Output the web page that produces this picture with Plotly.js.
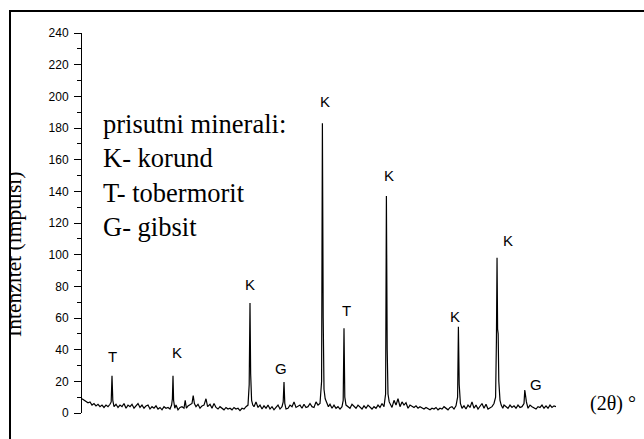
<!DOCTYPE html>
<html>
<head>
<meta charset="utf-8">
<script src="https://cdn.plot.ly/plotly-3.0.1.min.js"></script>
<style>
  html, body { margin: 0; padding: 0; background: #fff; }
  #wrap { position: relative; width: 644px; height: 439px; overflow: hidden; }
  #chart { position: absolute; left: 0; top: 0; width: 644px; height: 439px; }
  #frameLeft { position: absolute; left: 0; top: 10px; width: 9px; height: 429px; background: #fff; border-right: 2px solid #000; }
  #frameTop { position: absolute; left: 9px; top: 10px; width: 635px; height: 0; border-top: 2px solid #000; }
</style>
</head>
<body>
<div id="wrap">
  <div id="chart"></div>
  <div id="frameLeft"></div>
  <div id="frameTop"></div>
</div>
<script>
// 2θ positions (deg) and intensities (impulses)
const twoTheta = [
  4.00,4.25,4.50,4.75,5.00,5.25,5.50,5.75,6.00,6.25,6.50,6.75,7.00,7.25,7.50,7.65,7.75,7.85,
  8.00,8.25,8.50,8.75,9.00,9.25,9.50,9.75,10.00,10.25,10.50,10.75,11.00,11.25,11.50,11.75,
  12.00,12.25,12.50,12.75,13.00,13.25,13.50,13.75,14.00,14.25,14.50,14.75,15.00,15.20,15.30,
  15.375,15.45,15.60,15.75,16.00,16.25,16.50,16.75,16.90,17.05,17.25,17.50,17.75,17.90,18.05,
  18.25,18.50,18.75,19.00,19.25,19.50,19.70,20.00,20.25,20.50,20.75,21.00,21.25,21.50,21.75,
  22.00,22.25,22.50,22.75,23.00,23.25,23.50,23.75,24.00,24.25,24.50,24.75,24.90,25.00,25.08,
  25.20,25.35,25.50,25.75,26.00,26.25,26.50,26.75,27.00,27.25,27.50,27.75,28.00,28.25,28.50,
  28.75,29.00,29.15,29.25,29.35,29.50,29.75,30.00,30.25,30.50,30.75,31.00,31.25,31.50,31.75,
  32.00,32.25,32.50,32.75,33.00,33.25,33.50,33.75,33.95,34.05,34.15,34.25,34.40,34.60,34.80,
  35.00,35.25,35.50,35.75,36.00,36.25,36.50,36.65,36.75,36.85,37.00,37.25,37.50,37.75,38.00,
  38.25,38.50,38.75,39.00,39.25,39.50,39.75,40.00,40.25,40.50,40.75,41.00,41.25,41.50,41.75,
  41.95,42.05,42.15,42.25,42.40,42.60,42.75,43.00,43.25,43.50,43.75,44.00,44.25,44.50,44.75,
  45.00,45.25,45.50,45.75,46.00,46.25,46.50,46.75,47.00,47.25,47.50,47.75,48.00,48.25,48.50,
  48.75,49.00,49.25,49.50,49.75,50.00,50.25,50.50,50.75,50.95,51.05,51.15,51.30,51.50,51.75,
  52.00,52.25,52.50,52.75,53.00,53.25,53.50,53.75,54.00,54.25,54.50,54.75,55.00,55.25,55.50,
  55.70,55.80,55.88,55.95,56.02,56.10,56.25,56.40,56.60,56.75,57.00,57.25,57.50,57.75,58.00,
  58.25,58.50,58.75,59.00,59.25,59.35,59.45,59.55,59.75,60.00,60.25,60.50,60.75,61.00,61.25,
  61.50,61.75,62.00,62.25,62.50,62.75,63.00,63.25
];
const intensity = [
  9,8,7,6.5,7,5,6,4.5,5.5,4,5,3.5,5,4,5.5,7,23.5,8,
  4,5.5,3.5,5,4,6,3,5,4,5.5,3,4.5,6,3.5,5,3,
  4.5,5,2.5,4,3,4.5,2.5,3.5,2,4,3,3.5,2.5,5,9,
  23.5,8,3,5,2,3.5,4,3,8,3,4.5,5,6,11,6,
  4,5.5,3,4.5,5,9,4,5.5,3,6,3.5,2.5,4,3,2,
  3.5,2.5,3,2,3.5,2.5,3,1.5,3,2.5,4,5,18,69.5,25,
  8,5,4,7,3.5,5,2.5,4.5,3,5,2.5,4,2,3.5,5,
  2.5,4,7,19.5,6,2.5,3,5,4,7,3.5,4,5,3,5.5,
  3.5,4,6,4,3.5,7,5,6,20,183,60,15,9,7,4,
  5.5,3,5,3,4,2.5,4,8,53.5,10,5,4,3,5.5,4,
  3,5,3.5,2.5,4.5,3,5,3.5,2.5,4,3,5,3.5,6,4,
  12,137,40,12,7,5,3.5,8,5,9,4,7,5,6.5,3,
  5,4,3.5,4.5,3,4,3.5,2.5,3.5,3,2,3,2.5,3.5,2,
  3,2.5,4,3,2,3.5,4,2.5,4.5,10,54.5,18,6,3,4.5,
  2.5,5,3.5,7,3,5,2.5,4,6,3,5.5,2.5,3.5,4,6,
  10,45,98,53,50,20,8,5,3,5,4,3,5,3.5,4.5,
  3,5,3.5,4,6,14.5,10,7,3,5,4,3,2.5,4,3.5,
  5,3,4.5,3,5,3.5,4.5,4
];

// phase labels above the peaks
const peakLabels = ["T","K","K","G","K","T","K","K","K","G"];
const peakLabelX = [7.75,15.9,25.0,28.9,34.4,37.1,42.4,50.6,57.25,60.75];
const peakLabelY = [36,38.5,81,28.4,196.5,65,150,61,109,18.3];

const legendLines = ["prisutni minerali:","K- korund","T- tobermorit","G- gibsit"];
const yTickVals = [0,20,40,60,80,100,120,140,160,180,200,220,240];

const SERIF = "Liberation Serif";
const SANS = "Liberation Sans";

const annotations = peakLabels.map((t, i) => ({
  x: peakLabelX[i], y: peakLabelY[i], xref: "x", yref: "y",
  text: t, showarrow: false, xanchor: "center", yanchor: "middle",
  font: { family: SANS, size: 15, color: "#000" }
}));

annotations.push({
  x: (101 - 82) / 474, y: (413 - 176) / 380, xref: "paper", yref: "paper",
  text: legendLines.join("<br>"), showarrow: false, align: "left",
  xanchor: "left", yanchor: "middle",
  font: { family: SERIF, size: 26.5, color: "#000" }
});
annotations.push({
  x: (613 - 82) / 474, y: (413 - 403) / 380, xref: "paper", yref: "paper",
  text: "(2θ) °", showarrow: false, xanchor: "center", yanchor: "middle",
  font: { family: SERIF, size: 20, color: "#000" }
});
annotations.push({
  x: (14 - 82) / 474, y: (413 - 255) / 380, xref: "paper", yref: "paper",
  text: "Intenzitet (impulsi)", showarrow: false, textangle: -90,
  xanchor: "center", yanchor: "middle",
  font: { family: SERIF, size: 21.5, color: "#000" }
});

const trace = {
  x: twoTheta, y: intensity, type: "scatter", mode: "lines",
  line: { color: "#000", width: 1.2 }, hoverinfo: "skip"
};

const layout = {
  width: 644, height: 439,
  margin: { l: 82, r: 88, t: 33, b: 26 },
  paper_bgcolor: "#fff", plot_bgcolor: "#fff",
  showlegend: false,
  xaxis: { range: [4, 63.25], visible: false, showgrid: false, zeroline: false },
  yaxis: {
    range: [0, 240], showgrid: false, zeroline: false,
    showline: true, linecolor: "#000", linewidth: 1,
    ticks: "outside", ticklen: 7, tickwidth: 1, tickcolor: "#000",
    tickvals: yTickVals, ticklabelstandoff: 3,
    tickfont: { family: SANS, size: 12, color: "#000" },
    minor: { dtick: 10, ticks: "outside", ticklen: 4, tickwidth: 1, tickcolor: "#000", showgrid: false }
  },
  annotations: annotations
};

Plotly.newPlot("chart", [trace], layout, { staticPlot: true, displayModeBar: false });
</script>
</body>
</html>
